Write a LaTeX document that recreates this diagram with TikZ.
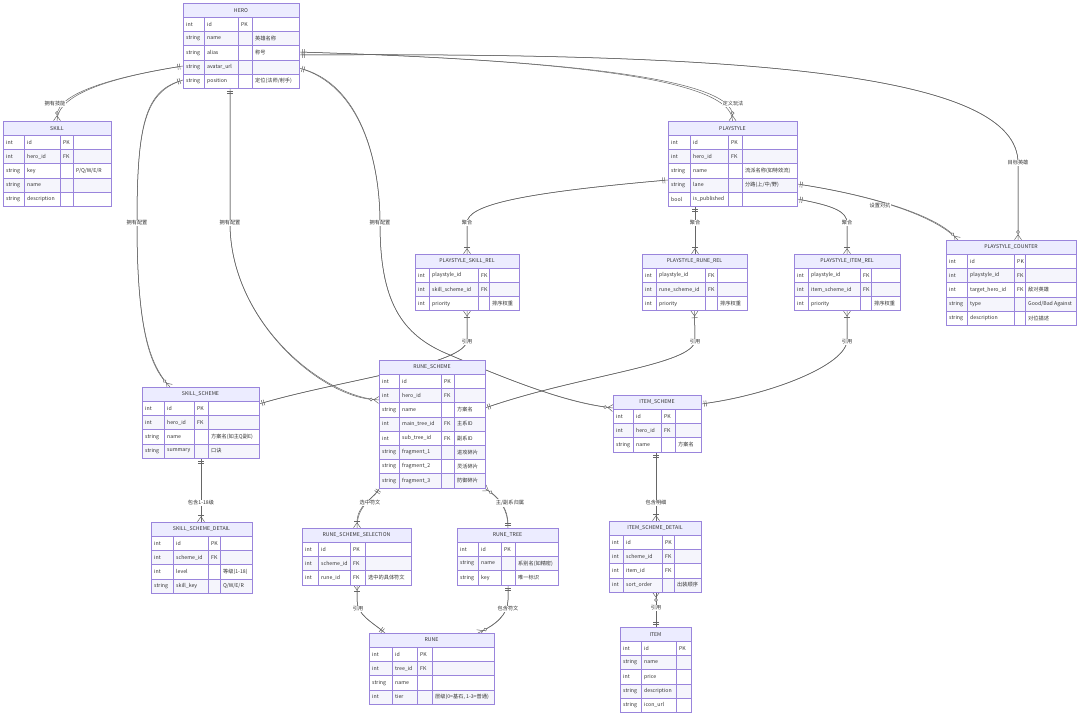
\documentclass[tikz,border=0pt]{standalone}
\usepackage{fontspec}
\setmainfont{Noto Sans CJK SC}
\usetikzlibrary{arrows.meta}
\pgfdeclarelayer{bgzero}
\pgfdeclarelayer{edges}
\pgfsetlayers{bgzero,edges,main}
\definecolor{entborder}{HTML}{9A85DC}
\definecolor{hdrfill}{HTML}{ECECFF}
\definecolor{roweven}{HTML}{F5F5FC}
\definecolor{txtcol}{HTML}{333333}
\definecolor{edgecol}{HTML}{666666}
\newcommand\erfont{\fontsize{5.2}{6}\selectfont}
\def\rh{14.2}
\tikzset{
  entbox/.style={draw=entborder, line width=0.6pt, inner sep=0pt, outer sep=0pt, rectangle},
  cellline/.style={draw=entborder, line width=0.5pt},
  celltext/.style={font=\erfont, text=txtcol, inner sep=0pt, anchor=west},
  titletext/.style={font=\erfont, text=txtcol, inner sep=0pt},
  lbl/.style={font=\erfont, text=txtcol, fill=white, inner sep=1pt},
  rel/.style={draw=edgecol, line width=0.5pt, preaction={draw=edgecol, line width=0.5pt, arrows=-}},
  EOne/.tip={Bar[width=6pt,sep=1.5pt] Bar[width=6pt,sep=3pt]},
  EZM/.tip={Circle[fill=white,length=3.5pt,sep=0.5pt] Straight Barb[reversed,length=5pt,width=7pt]},
  EOM/.tip={Bar[width=6pt,sep=1pt] Straight Barb[reversed,length=5pt,width=7pt]},
}
% entity: name, title, x0, c1, c2, c3, x1, ytop, rows
\newcommand\entity[9]{%
  \def\eN{#1}\def\eX{#3}\def\eA{#4}\def\eB{#5}\def\eC{#6}\def\eW{#7}\def\eY{#8}%
  \pgfmathsetmacro\eH{(#9+1)*\rh}%
  \pgfmathsetmacro\eWd{#7-#3}%
  \fill[hdrfill] (#3,#8) rectangle (#7,{#8+\rh});
  \node[titletext] (#1-title) at ({(#3+#7)/2},{#8+\rh/2}) {#2};
}
\newcommand\entclose{%
  \node[entbox, minimum width=\eWd pt, minimum height=\eH pt, anchor=north west] (\eN) at (\eX,\eY) {};
}
\newcommand\erow[5]{%
  \pgfmathsetmacro\eRt{\eY+#1*\rh}%
  \pgfmathsetmacro\eRb{\eRt+\rh}%
  \pgfmathsetmacro\eRm{\eRt+\rh/2}%
  \ifodd#1\relax\def\eFill{white}\else\def\eFill{roweven}\fi
  \path[fill=\eFill] (\eX,\eRt) rectangle (\eW,\eRb);
  \draw[cellline] (\eX,\eRt) -- (\eW,\eRt) (\eA,\eRt) -- (\eA,\eRb) (\eB,\eRt) -- (\eB,\eRb) (\eC,\eRt) -- (\eC,\eRb);
  \node[celltext] (\eN-#1a) at (\eX+3,\eRm) {#2};
  \node[celltext] (\eN-#1b) at (\eA+3,\eRm) {#3};
  \node[celltext] (\eN-#1c) at (\eB+3,\eRm) {#4};
  \node[celltext] (\eN-#1d) at (\eC+3,\eRm) {#5};
}
\begin{document}
\begin{tikzpicture}[x=1pt,y=-1pt]
\useasboundingbox (0,0) rectangle (1080,714);
\begin{pgfonlayer}{bgzero}
\fill[white] (0,0) rectangle (1080,714);
\end{pgfonlayer}

% ---------- entities ----------
\entity{hero}{HERO}{183}{204}{238}{252}{299}{3}{5}
\erow{1}{int}{id}{PK}{}
\erow{2}{string}{name}{}{英雄名称}
\erow{3}{string}{alias}{}{称号}
\erow{4}{string}{avatar\_url}{}{}
\erow{5}{string}{position}{}{定位(法师/射手)}
\entclose

\entity{skill}{SKILL}{3}{24}{60}{73}{111}{121}{5}
\erow{1}{int}{id}{PK}{}
\erow{2}{int}{hero\_id}{FK}{}
\erow{3}{string}{key}{}{P/Q/W/E/R}
\erow{4}{string}{name}{}{}
\erow{5}{string}{description}{}{}
\entclose

\entity{playstyle}{PLAYSTYLE}{668}{690}{728}{742}{797}{121}{5}
\erow{1}{int}{id}{PK}{}
\erow{2}{int}{hero\_id}{FK}{}
\erow{3}{string}{name}{}{流派名称(如特效流)}
\erow{4}{string}{lane}{}{分路(上/中/野)}
\erow{5}{bool}{is\_published}{}{}
\entclose

\entity{psr}{PLAYSTYLE\_SKILL\_REL}{415}{429}{478}{489}{519}{254}{3}
\erow{1}{int}{playstyle\_id}{FK}{}
\erow{2}{int}{skill\_scheme\_id}{FK}{}
\erow{3}{int}{priority}{}{排序权重}
\entclose

\entity{prr}{PLAYSTYLE\_RUNE\_REL}{642}{656}{705}{717}{747}{254}{3}
\erow{1}{int}{playstyle\_id}{FK}{}
\erow{2}{int}{rune\_scheme\_id}{FK}{}
\erow{3}{int}{priority}{}{排序权重}
\entclose

\entity{pir}{PLAYSTYLE\_ITEM\_REL}{794}{808}{860}{871}{900}{254}{3}
\erow{1}{int}{playstyle\_id}{FK}{}
\erow{2}{int}{item\_scheme\_id}{FK}{}
\erow{3}{int}{priority}{}{排序权重}
\entclose

\entity{counter}{PLAYSTYLE\_COUNTER}{946}{967}{1014}{1025}{1076}{240}{5}
\erow{1}{int}{id}{PK}{}
\erow{2}{int}{playstyle\_id}{FK}{}
\erow{3}{int}{target\_hero\_id}{FK}{敌对英雄}
\erow{4}{string}{type}{}{Good/Bad Against}
\erow{5}{string}{description}{}{对位描述}
\entclose

\entity{rscheme}{RUNE\_SCHEME}{379}{399}{441}{454}{485}{360}{8}
\erow{1}{int}{id}{PK}{}
\erow{2}{int}{hero\_id}{FK}{}
\erow{3}{string}{name}{}{方案名}
\erow{4}{int}{main\_tree\_id}{FK}{主系ID}
\erow{5}{int}{sub\_tree\_id}{FK}{副系ID}
\erow{6}{string}{fragment\_1}{}{进攻碎片}
\erow{7}{string}{fragment\_2}{}{灵活碎片}
\erow{8}{string}{fragment\_3}{}{防御碎片}
\entclose

\entity{sscheme}{SKILL\_SCHEME}{142}{164}{194}{208}{259}{387}{4}
\erow{1}{int}{id}{PK}{}
\erow{2}{int}{hero\_id}{FK}{}
\erow{3}{string}{name}{}{方案名(如主Q副E)}
\erow{4}{string}{summary}{}{口诀}
\entclose

\entity{ischeme}{ITEM\_SCHEME}{613}{633}{661}{675}{701}{395}{3}
\erow{1}{int}{id}{PK}{}
\erow{2}{int}{hero\_id}{FK}{}
\erow{3}{string}{name}{}{方案名}
\entclose

\entity{ssd}{SKILL\_SCHEME\_DETAIL}{151}{173}{208}{220}{252}{522}{4}
\erow{1}{int}{id}{PK}{}
\erow{2}{int}{scheme\_id}{FK}{}
\erow{3}{int}{level}{}{等级(1-18)}
\erow{4}{string}{skill\_key}{}{Q/W/E/R}
\entclose

\entity{rss}{RUNE\_SCHEME\_SELECTION}{302}{318}{350}{365}{411}{528}{3}
\erow{1}{int}{id}{PK}{}
\erow{2}{int}{scheme\_id}{FK}{}
\erow{3}{int}{rune\_id}{FK}{选中的具体符文}
\entclose

\entity{rtree}{RUNE\_TREE}{457}{478}{501}{515}{558}{528}{3}
\erow{1}{int}{id}{PK}{}
\erow{2}{string}{name}{}{系别名(如精密)}
\erow{3}{string}{key}{}{唯一标识}
\entclose

\entity{isd}{ITEM\_SCHEME\_DETAIL}{609}{623}{662}{674}{701}{521}{4}
\erow{1}{int}{id}{PK}{}
\erow{2}{int}{scheme\_id}{FK}{}
\erow{3}{int}{item\_id}{FK}{}
\erow{4}{int}{sort\_order}{}{出装顺序}
\entclose

\entity{rune}{RUNE}{369}{392}{417}{432}{494}{633}{4}
\erow{1}{int}{id}{PK}{}
\erow{2}{int}{tree\_id}{FK}{}
\erow{3}{string}{name}{}{}
\erow{4}{int}{tier}{}{层级(0=基石, 1-3=普通)}
\entclose

\entity{item}{ITEM}{620}{641}{676}{691}{691}{627}{5}
\erow{1}{int}{id}{PK}{}
\erow{2}{string}{name}{}{}
\erow{3}{int}{price}{}{}
\erow{4}{string}{description}{}{}
\erow{5}{string}{icon\_url}{}{}
\entclose

% ---------- connectors (drawn beneath the tables) ----------
\begin{pgfonlayer}{edges}
\draw[rel, EOne-EZM] (hero.west |- 0,66) .. controls (120,76) and (57,92) .. (skill.north);
\draw[rel, EOne-EZM] (hero.west |- 0,80) .. controls (145,92) and (137,125) .. (137,223)
   .. controls (137,330) and (150,365) .. (170,0 |- sscheme.north);
\draw[rel, EOne-EZM] (hero.south -| 230,0) .. controls (230,150) and (230,190) .. (230,223)
   .. controls (230,320) and (320,396) .. (rscheme.west |- 0,400);
\draw[rel, EOne-EZM] (hero.east |- 0,68) .. controls (360,85) and (380,160) .. (380,223)
   .. controls (380,300) and (400,335) .. (450,355) .. controls (520,385) and (570,403) .. (ischeme.west |- 0,408);
\draw[rel, EOne-EZM] (hero.east |- 0,52) .. controls (560,60) and (733,78) .. (playstyle.north);
\draw[rel, EOne-EZM] (hero.east |- 0,55) .. controls (760,52) and (1018,75) .. (1018,163) -- (1018,0 |- counter.north);
\draw[rel, EOne-EOM] (playstyle.west |- 0,180) .. controls (520,193) and (467,205) .. (467,223) -- (psr.north);
\draw[rel, EOne-EOM] (695,0 |- playstyle.south) -- (695,0 |- prr.north);
\draw[rel, EOne-EOM] (playstyle.east |- 0,199) .. controls (835,206) and (847,212) .. (847,223) -- (pir.north);
\draw[rel, EOne-EZM] (playstyle.east |- 0,184) .. controls (870,195) and (935,215) .. (958,0 |- counter.north);
\draw[rel, EOne-EOM] (sscheme.east |- 0,404) .. controls (340,380) and (467,365) .. (467,340) -- (psr.south);
\draw[rel, EOne-EOM] (rscheme.east |- 0,408) .. controls (580,375) and (695,365) .. (695,340) -- (prr.south);
\draw[rel, EOne-EOM] (ischeme.east |- 0,404) .. controls (770,395) and (847,365) .. (847,340) -- (pir.south);
\draw[rel, EOne-EOM] (201,0 |- sscheme.south) -- (201,0 |- ssd.north);
\draw[rel, EOne-EOM] (380,0 |- rscheme.south) .. controls (372,500) and (357,505) .. (357,0 |- rss.north);
\draw[rel, EOne-EZM] (508,0 |- rtree.north) .. controls (508,505) and (495,495) .. (484,0 |- rscheme.south);
\draw[rel, EOne-EOM] (656,0 |- ischeme.south) -- (656,0 |- isd.north);
\draw[rel, EOne-EZM] (656,0 |- item.north) -- (656,0 |- isd.south);
\draw[rel, EOne-EOM] (385,0 |- rune.north) .. controls (372,622) and (357,615) .. (357,600) -- (357,0 |- rss.south);
\draw[rel, EOne-EZM] (508,0 |- rtree.south) -- (508,600) .. controls (508,615) and (495,625) .. (478,0 |- rune.north);
\end{pgfonlayer}

% ---------- labels ----------
\node[lbl] (l1) at (55,104) {拥有技能};
\node[lbl] (l2) at (137,223) {拥有配置};
\node[lbl] (l3) at (230,223) {拥有配置};
\node[lbl] (l4) at (380,223) {拥有配置};
\node[lbl] (l5) at (733,104) {定义玩法};
\node[lbl] (l6) at (1018,163) {目标英雄};
\node[lbl] (l7) at (467,223) {聚合};
\node[lbl] (l8) at (695,223) {聚合};
\node[lbl] (l9) at (847,223) {聚合};
\node[lbl] (l10) at (880,206) {设置对抗};
\node[lbl] (l11) at (467,342) {引用};
\node[lbl] (l12) at (695,342) {引用};
\node[lbl] (l13) at (847,342) {引用};
\node[lbl] (l14) at (201,503) {包含1-18级};
\node[lbl] (l15) at (370,503) {选中符文};
\node[lbl] (l16) at (510,503) {主/副系归属};
\node[lbl] (l17) at (656,503) {包含明细};
\node[lbl] (l18) at (656,608) {引用};
\node[lbl] (l19) at (358,609) {引用};
\node[lbl] (l20) at (508,609) {包含符文};
\end{tikzpicture}
\end{document}
